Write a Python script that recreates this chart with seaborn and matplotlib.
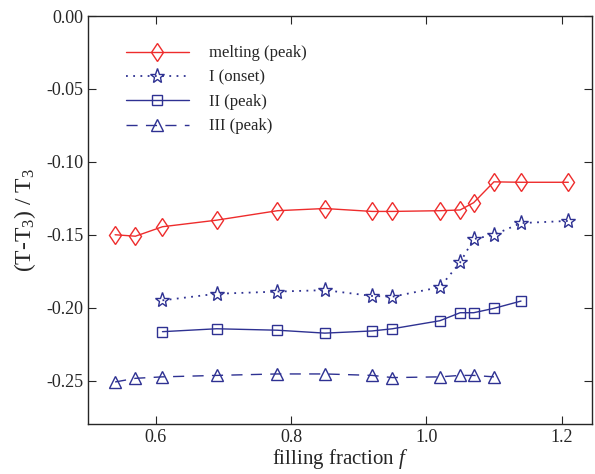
import numpy as np
import pandas as pd
import seaborn as sns
import matplotlib.pyplot as plt

# ---------------------------------------------------- data ----------------------------------------------------
f_melt = [0.54, 0.57, 0.61, 0.69, 0.78, 0.85, 0.92, 0.95, 1.02, 1.05, 1.07, 1.10, 1.14, 1.21]
t_melt = [-0.150, -0.151, -0.1445, -0.140, -0.1335, -0.132, -0.134, -0.134, -0.1335, -0.133, -0.128, -0.1137, -0.114, -0.114]

f_one = [0.61, 0.69, 0.78, 0.85, 0.92, 0.95, 1.02, 1.05, 1.07, 1.10, 1.14, 1.21]
t_one = [-0.195, -0.1905, -0.189, -0.188, -0.192, -0.1925, -0.186, -0.169, -0.153, -0.150, -0.142, -0.1405]

f_two = [0.61, 0.69, 0.78, 0.85, 0.92, 0.95, 1.02, 1.05, 1.07, 1.10, 1.14]
t_two = [-0.2165, -0.2145, -0.2155, -0.2175, -0.216, -0.2145, -0.209, -0.2035, -0.2035, -0.2005, -0.1955]

f_three = [0.54, 0.57, 0.61, 0.69, 0.78, 0.85, 0.92, 0.95, 1.02, 1.05, 1.07, 1.10]
t_three = [-0.251, -0.2485, -0.2475, -0.2465, -0.2455, -0.2455, -0.2465, -0.248, -0.2475, -0.2465, -0.2465, -0.2475]

red = '#ee2c2c'
blue = '#2e3192'

sns.set_style('ticks')
plt.rcParams['font.family'] = ['Liberation Serif', 'DejaVu Serif']
plt.rcParams['mathtext.fontset'] = 'custom'
plt.rcParams['mathtext.rm'] = 'Liberation Serif'
plt.rcParams['mathtext.it'] = 'Liberation Serif:italic'

fig = plt.figure(figsize=(5.95, 4.74), dpi=100)
ax = fig.add_axes([0.148, 0.105, 0.847, 0.861])

sns.lineplot(x=f_melt, y=t_melt, ax=ax, color=red, lw=1, marker='d', markersize=9.5,
             mfc='none', mec=red, mew=1, label='melting (peak)')
sns.lineplot(x=f_one, y=t_one, ax=ax, color=blue, lw=1.3, linestyle=(0, (1, 3)), marker='*', markersize=11,
             mfc='none', mec=blue, mew=1, label='I (onset)')
sns.lineplot(x=f_two, y=t_two, ax=ax, color=blue, lw=1, marker='s', markersize=6.5,
             mfc='none', mec=blue, mew=1, label='II (peak)')
sns.lineplot(x=f_three, y=t_three, ax=ax, color=blue, lw=1, linestyle=(0, (8, 6)), marker='^', markersize=8,
             mfc='none', mec=blue, mew=1, label='III (peak)')

ax.set_xlim(0.5, 1.245)
ax.set_ylim(-0.28, 0.0)
ax.set_xticks([0.6, 0.8, 1.0, 1.2])
ax.set_xticklabels(['0.6', '0.8', '1.0', '1.2'])
ax.set_yticks([0.0, -0.05, -0.10, -0.15, -0.20, -0.25])
ax.set_yticklabels(['0.00', '-0.05', '-0.10', '-0.15', '-0.20', '-0.25'])
ax.tick_params(direction='in', top=True, right=True, length=6, width=0.8, labelsize=13)
for s in ax.spines.values():
    s.set_linewidth(1)

ax.set_xlabel(r'filling fraction $\mathit{f}$', fontsize=15, labelpad=1)
ax.set_ylabel(r'(T-T$_3$) / T$_3$', fontsize=17, labelpad=6)

ax.legend(loc='upper left', bbox_to_anchor=(0.045, 0.965), frameon=False, fontsize=12,
          handlelength=3.8, handletextpad=1.2, labelspacing=0.5)

fig.savefig('out.png', dpi=100)
